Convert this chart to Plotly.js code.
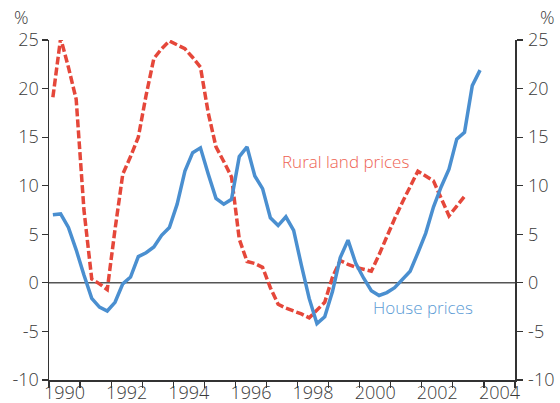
<!DOCTYPE html>
<html>
<head>
<meta charset="utf-8">
<script src="https://cdn.plot.ly/plotly-3.0.1.min.js"></script>
<style>
html,body{margin:0;padding:0;background:#fff;}
#chart{width:560px;height:403px;}
</style>
</head>
<body>
<div id="chart"></div>
<script>
// Quarterly data, plotted at quarter mid-points
const startYear = 1990;
const housePrices = [
  7.0, 7.1, 5.7, 3.4,
  0.8, -1.6, -2.5, -2.9,
  -2.0, -0.1, 0.6, 2.7,
  3.1, 3.7, 4.9, 5.7,
  8.1, 11.5, 13.4, 13.9,
  11.2, 8.7, 8.1, 8.6,
  13.0, 14.0, 11.0, 9.7,
  6.7, 5.9, 6.8, 5.4,
  1.8, -1.6, -4.2, -3.5,
  -0.9, 2.6, 4.4, 2.0,
  0.5, -0.8, -1.3, -1.0,
  -0.5, 0.4, 1.2, 3.1,
  5.1, 7.8, 9.9, 11.7,
  14.8, 15.5, 20.3, 21.9
];
const ruralLandPrices = [
  19.1, 25.2, 22.2, 18.9,
  7.5, 0.4, -0.1, -0.7,
  5.5, 11.2, 13.0, 15.0,
  19.3, 23.1, 24.1, 24.9,
  24.5, 24.1, 23.2, 22.2,
  17.5, 14.0, 12.5, 10.9,
  4.5, 2.2, 2.0, 1.6,
  -0.5, -2.2, -2.6, -2.9,
  -3.2, -3.6, -2.8, -2.0,
  0.6, 2.3, 1.9, 1.6,
  1.4, 1.2, 2.9, 4.8,
  6.6, 8.3, 9.9, 11.5,
  11.0, 10.5, 8.7, 6.9,
  7.9, 8.9
];
const yearLabels = ['1990','1992','1994','1996','1998','2000','2002','2004'];
const yTicks = [-10, -5, 0, 5, 10, 15, 20, 25];
const yTickText = ['-10', '-5', '0', '5', '10', '15', '20', '25'];

function quarterX(n) {
  const xs = [];
  for (let i = 0; i < n; i++) xs.push(startYear + (i + 0.5) / 4);
  return xs;
}
const labelPos = yearLabels.map(s => parseInt(s, 10) + 0.5);
const yearBounds = [];
for (let y = 1990; y <= 2005; y++) yearBounds.push(y);

const fontFam = '"Open Sans", "Liberation Sans", Arial, sans-serif';
const tickFont = {family: fontFam, size: 18, color: '#3a3a3a', weight: 300};

const traces = [
  {
    x: quarterX(ruralLandPrices.length), y: ruralLandPrices,
    type: 'scatter', mode: 'lines', name: 'Rural land prices',
    line: {color: '#E5473A', width: 3.5, dash: '8px,3px'},
    hoverinfo: 'skip'
  },
  {
    x: quarterX(housePrices.length), y: housePrices,
    type: 'scatter', mode: 'lines', name: 'House prices',
    line: {color: '#4A8FD0', width: 3.5},
    hoverinfo: 'skip'
  },
  {
    x: [1990, 2005], y: [null, null], yaxis: 'y2',
    type: 'scatter', mode: 'lines', showlegend: false, hoverinfo: 'skip'
  }
];

const yCommon = {
  range: [-10, 25],
  tickmode: 'array', tickvals: yTicks, ticktext: yTickText,
  ticks: 'outside', ticklen: 6, tickwidth: 1.2, tickcolor: '#333',
  showline: true, linecolor: '#333', linewidth: 1.5,
  showgrid: false, zeroline: false,
  tickfont: tickFont, fixedrange: true
};

const layout = {
  width: 560, height: 403,
  margin: {l: 49, r: 45, t: 40, b: 23},
  paper_bgcolor: '#fff', plot_bgcolor: '#fff',
  showlegend: false,
  xaxis: {
    range: [1990, 2005],
    tickmode: 'array', tickvals: labelPos, ticktext: yearLabels,
    ticks: '', showline: true, linecolor: '#333', linewidth: 1.5,
    showgrid: false, zeroline: false, tickfont: tickFont,
    ticklabelstandoff: -4,
    minor: {tickmode: 'array', tickvals: yearBounds, ticks: 'outside', ticklen: 6, tickwidth: 1.2, tickcolor: '#333', showgrid: false},
    fixedrange: true
  },
  yaxis: Object.assign({}, yCommon, {side: 'left', ticklabelstandoff: -1}),
  yaxis2: Object.assign({}, yCommon, {side: 'right', overlaying: 'y', ticklabelstandoff: 2}),
  shapes: [
    {type: 'line', xref: 'paper', x0: 0, x1: 1, yref: 'y', y0: 0, y1: 0,
     line: {color: '#555', width: 1.5}, layer: 'below'}
  ],
  annotations: [
    {xref: 'paper', yref: 'paper', x: -0.058, y: 1.0, yshift: 9, xanchor: 'center', yanchor: 'bottom',
     text: '%', showarrow: false, font: tickFont},
    {xref: 'paper', yref: 'paper', x: 1.07, y: 1.0, yshift: 9, xanchor: 'center', yanchor: 'bottom',
     text: '%', showarrow: false, font: tickFont},
    {xref: 'x', yref: 'y', x: 1997.45, y: 12.5, xanchor: 'left', yanchor: 'middle',
     text: 'Rural land prices', showarrow: false,
     font: {family: fontFam, size: 17, color: '#EE6454', weight: 300}},
    {xref: 'x', yref: 'y', x: 2000.35, y: -2.5, xanchor: 'left', yanchor: 'middle',
     text: 'House prices', showarrow: false,
     font: {family: fontFam, size: 17, color: '#5B9BD5', weight: 300}}
  ]
};

Plotly.newPlot('chart', traces, layout, {staticPlot: true, displayModeBar: false});
</script>
</body>
</html>
